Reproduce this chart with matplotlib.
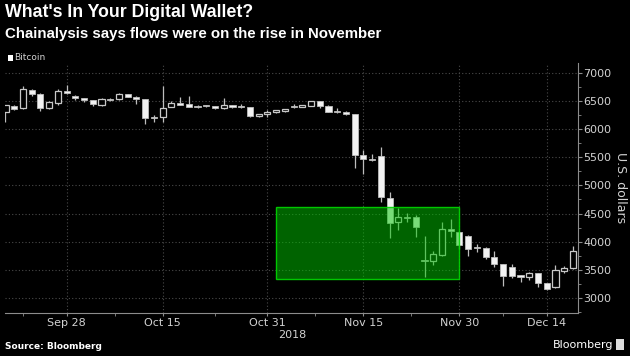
import matplotlib
matplotlib.use('Agg')
import matplotlib.pyplot as plt
import pandas as pd
import numpy as np
from matplotlib.patches import Rectangle

# --- data ---
start_day = "2018-09-19"
end_day = "2018-12-19"

opens = [6311, 6418, 6372, 6692, 6621, 6382, 6460, 6685, 6596, 6550,
         6520, 6436, 6535, 6537, 6626, 6578, 6532, 6212, 6222, 6395,
         6460, 6443, 6405, 6425, 6407, 6377, 6425, 6407, 6395, 6230,
         6265, 6300, 6324, 6413, 6400, 6418, 6502, 6418, 6324, 6311,
         6270, 5540, 5470, 5528, 4780, 4343, 4443, 4430, 3671, 3653,
         3760, 4218, 4175, 4098, 3897, 3890, 3720, 3595, 3552, 3404,
         3374, 3434, 3256, 3196, 3481, 3522]
highs = [6440, 6430, 6769, 6710, 6640, 6500, 6710, 6781, 6610, 6565,
         6530, 6555, 6560, 6650, 6635, 6585, 6540, 6252, 6769, 6500,
         6567, 6590, 6440, 6440, 6420, 6555, 6435, 6448, 6400, 6280,
         6341, 6350, 6370, 6448, 6440, 6510, 6510, 6425, 6382, 6320,
         6280, 5630, 5560, 5677, 4887, 4603, 4503, 4473, 4104, 3832,
         4353, 4401, 4190, 4110, 3950, 3900, 3837, 3610, 3600, 3410,
         3460, 3440, 3260, 3582, 3560, 3921]
lows = [6133, 6350, 6360, 6590, 6329, 6360, 6436, 6620, 6530, 6480,
        6420, 6420, 6507, 6530, 6570, 6450, 6087, 6122, 6133, 6390,
        6430, 6390, 6380, 6400, 6365, 6370, 6380, 6385, 6211, 6215,
        6211, 6290, 6315, 6372, 6390, 6410, 6380, 6300, 6295, 6260,
        5314, 5197, 5440, 4700, 4057, 4205, 4353, 4087, 3363, 3582,
        3740, 4087, 3860, 3748, 3820, 3690, 3552, 3209, 3350, 3286,
        3320, 3200, 3140, 3180, 3440, 3510]
closes = [6430, 6365, 6710, 6626, 6382, 6489, 6680, 6639, 6550, 6520,
          6443, 6537, 6528, 6626, 6578, 6532, 6194, 6194, 6382, 6460,
          6436, 6395, 6400, 6407, 6377, 6425, 6395, 6390, 6235, 6270,
          6311, 6341, 6359, 6400, 6430, 6502, 6418, 6311, 6300, 6270,
          5540, 5470, 5446, 4787, 4325, 4443, 4420, 4253, 3653, 3773,
          4218, 4188, 3938, 3867, 3880, 3720, 3595, 3392, 3392, 3374,
          3440, 3256, 3150, 3493, 3522, 3832]

tick_days = ["2018-09-28", "2018-10-15", "2018-10-31", "2018-11-15", "2018-11-30", "2018-12-14"]
tick_labels = ["Sep 28", "Oct 15", "Oct 31", "Nov 15", "Nov 30", "Dec 14"]

# highlighted November box
box_start = "2018-11-01"
box_end = "2018-11-30"
box_low = 3340
box_high = 4620

days = pd.bdate_range(start_day, end_day)
pos = {d: i for i, d in enumerate(days)}
x = np.arange(len(days))
o = np.array(opens, float)
h = np.array(highs, float)
l = np.array(lows, float)
c = np.array(closes, float)

BG = '#000000'
TXT = '#d2d2d2'
GRID = '#4a4a4a'

fig = plt.figure(figsize=(6.3, 3.56), dpi=100, facecolor=BG)
ax = fig.add_axes([0.008, 0.121, 0.909, 0.702], facecolor=BG)

# wicks first, bodies on top
ax.vlines(x, l, h, color='#bdbdbd', lw=0.9, zorder=2)
up = c >= o
body_bot = np.minimum(o, c)
body_h = np.maximum(np.abs(c - o), 14)
ax.bar(x[up], body_h[up], bottom=body_bot[up], width=0.7,
       facecolor='#000000', edgecolor='#c8c8c8', linewidth=0.9, zorder=3)
ax.bar(x[~up], body_h[~up], bottom=body_bot[~up], width=0.7,
       facecolor='#f2f2f2', edgecolor='#bdbdbd', linewidth=0.6, zorder=3)

# green overlay
bx0 = pos[pd.Timestamp(box_start)]
bx1 = pos[pd.Timestamp(box_end)]
ax.add_patch(Rectangle((bx0, box_low), bx1 - bx0, box_high - box_low,
                       facecolor=(0, 0.78, 0, 0.5), edgecolor=(0, 0.85, 0, 0.9),
                       linewidth=1.0, zorder=4))

ax.set_xlim(-0.05, len(days) - 0.45)
ax.set_ylim(2730, 7180)

# axes styling
for s in ['top', 'left']:
    ax.spines[s].set_visible(False)
for s in ['right', 'bottom']:
    ax.spines[s].set_color('#8c8c8c')
    ax.spines[s].set_linewidth(0.8)

ax.yaxis.tick_right()
ax.set_yticks(np.arange(3000, 7001, 500))
ax.set_yticks(np.arange(2750, 7001, 250), minor=True)
ax.tick_params(axis='y', which='both', colors='#8c8c8c', labelcolor=TXT,
               labelsize=8, direction='out', pad=1)
ax.tick_params(axis='y', which='major', length=3)
ax.tick_params(axis='y', which='minor', length=2)
ax.yaxis.set_label_position('right')
ax.set_ylabel('U.S. dollars', color=TXT, fontsize=9, rotation=270, labelpad=11)

tx = [pos[pd.Timestamp(d)] for d in tick_days]
ax.set_xticks(tx)
ax.set_xticklabels(tick_labels)
mids = [(a + b) / 2 for a, b in zip(tx[:-1], tx[1:])]
ax.set_xticks([tx[0] - 5] + mids, minor=True)
ax.tick_params(axis='x', which='both', colors='#8c8c8c', labelcolor=TXT,
               labelsize=8, direction='out', length=2, pad=2)

ax.grid(True, which='major', color=GRID, linestyle=(0, (1, 2)), linewidth=0.8)
ax.set_axisbelow(True)

# text
fig.text(0.008, 0.988, "What's In Your Digital Wallet?", color='white',
         fontsize=12.8, fontweight='bold', family='Liberation Sans', va='top')
fig.text(0.008, 0.925, "Chainalysis says flows were on the rise in November", color='white',
         fontsize=10.8, fontweight='bold', family='Liberation Sans', va='top')
fig.add_artist(Rectangle((0.012, 0.83), 0.008, 0.016, transform=fig.transFigure,
                         facecolor='white', edgecolor='none'))
fig.text(0.023, 0.838, "Bitcoin", color=TXT, fontsize=6.5, va='center')
fig.text(0.464, 0.06, "2018", color=TXT, fontsize=8, ha='center', va='center')
fig.text(0.008, 0.027, "Source: Bloomberg", color='white', fontsize=6.5,
         fontweight='bold', va='center')
fig.text(0.974, 0.032, "Bloomberg", color='white', fontsize=8, ha='right', va='center')
fig.add_artist(Rectangle((0.978, 0.018), 0.013, 0.03, transform=fig.transFigure,
                         facecolor='#dddddd', edgecolor='none'))

fig.savefig('out.png', dpi=100, facecolor=BG)
